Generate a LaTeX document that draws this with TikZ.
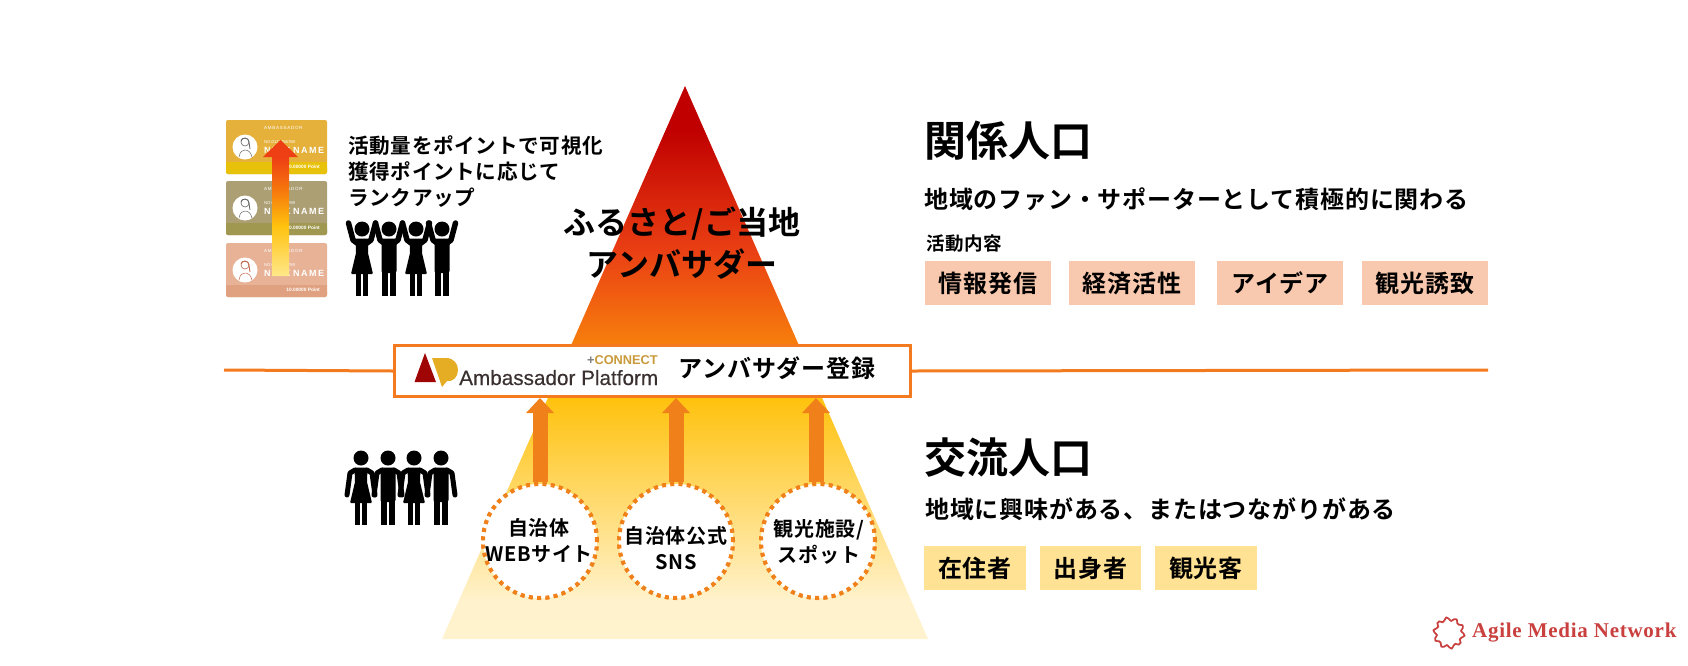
\documentclass[tikz,border=0pt]{standalone}
\usepackage{fontspec}
\usetikzlibrary{arrows.meta}
\newfontfamily\jpb[LetterSpace=3.4]{Noto Sans CJK JP Bold}
\newfontfamily\jpt{Noto Sans CJK JP Bold}
\newfontfamily\lat{Liberation Sans}
\newfontfamily\latm[FakeBold=0.3]{Liberation Sans}
\newfontfamily\amn[LetterSpace=3.5]{Liberation Serif}
\newcommand{\fs}[2]{\fontsize{#1}{#2}\selectfont}
\definecolor{orline}{HTML}{F47A20}
\definecolor{orarrow}{HTML}{F08019}
\definecolor{chipa}{HTML}{F8C9AE}
\definecolor{chipb}{HTML}{FFE293}
\definecolor{amnred}{HTML}{C9403F}
\definecolor{logored}{HTML}{A00505}
\definecolor{logogold}{HTML}{E5AD24}
\definecolor{logodark}{HTML}{3A3030}
\definecolor{conngold}{HTML}{C99A3C}
\definecolor{gA}{HTML}{FFF3CF}
\definecolor{gB}{HTML}{FFF2CC}
\definecolor{gC}{HTML}{FFC20E}
\definecolor{gD}{HTML}{F7800C}
\definecolor{gE}{HTML}{EA4014}
\definecolor{gF}{HTML}{C00000}
\definecolor{gG}{HTML}{FFE88A}
\definecolor{gH}{HTML}{EE3F14}
\definecolor{cardA}{HTML}{E5B13B}
\definecolor{stripA}{HTML}{E8C20A}
\definecolor{cardB}{HTML}{AD9F74}
\definecolor{stripB}{HTML}{A09750}
\definecolor{cardC}{HTML}{E7B296}
\definecolor{stripC}{HTML}{DFA17F}
\definecolor{sketchA}{HTML}{666666}
\definecolor{sketchC}{HTML}{C0654A}
\pgfdeclareverticalshading{tri}{100bp}{color(0bp)=(gA); color(25bp)=(gA); color(28.5bp)=(gB); color(46.75bp)=(gC); color(51.5bp)=(gD); color(60bp)=(gE); color(71bp)=(gF); color(100bp)=(gF)}
\pgfdeclareverticalshading{upar}{100bp}{color(0bp)=(gG); color(25bp)=(gG); color(43.5bp)=(gC); color(55bp)=(gD); color(68.5bp)=(gH); color(100bp)=(gH)}
\tikzset{
 title/.style={font=\jpt\fs{42}{50},anchor=west,inner sep=0},
 lead/.style={font=\jpb\fs{24}{30},anchor=west,inner sep=0},
 chip/.style={font=\jpb\fs{24}{30},minimum height=44,inner sep=0,text=black},
 spot/.style={circle,draw=orarrow,fill=white,line width=4,dash pattern=on 4 off 4.3,minimum size=114,inner sep=0},
 spotlabel/.style={font=\jpb\fs{20}{26},align=center,inner sep=0},
 uparrow/.style={draw=orarrow,line width=15,-{Triangle[width=27,length=15]}},
 cardtxt/.style={text=white,inner sep=0},
}
\newcommand{\manbody}{\fill (0,0) circle (7.5);
 \fill[rounded corners=2] (-7.5,9.5) rectangle (7.5,44);
 \fill (-7,36) rectangle (-0.9,67); \fill (0.9,36) rectangle (7,67);}
\newcommand{\womanbody}{\fill (0,0) circle (7.5);
 \fill[rounded corners=1] (-6.5,9.5) -- (6.5,9.5) -- (6,24) -- (11,45) -- (-11,45) -- (-6,24) -- cycle;
 \fill (-6,45) rectangle (-1.3,67); \fill (1.3,45) rectangle (6,67);}
\newcommand{\armsdown}{\draw[line width=5,line cap=round,line join=round] (-6,12) -- (-11,15) -- (-14,37) (6,12) -- (11,15) -- (14,37);}
\newcommand{\armsup}{\draw[line width=5.5,line cap=round,line join=round] (-5,14) -- (-9,11) -- (-13.5,-6) (5,14) -- (9,11) -- (13.5,-6);}
\newcommand{\card}[5]{%
 \begin{scope}[shift={(0,#1)}]
 \fill[#2,rounded corners=2] (226,0) rectangle (327,54);
 \fill[#3] (226,42) rectangle (327,50);
 \fill[#3,rounded corners=2] (226,46) rectangle (327,54);
 \fill[white] (245,27) circle (12.5);
 \draw[#4,line width=.5] (239,37) .. controls (240,31) and (243,30) .. (245,30) .. controls (248,30) and (251,32) .. (252,37);
 \draw[#4,line width=.6,fill=white] (245,22) circle (4);
 \draw[#4,line width=.8] (241,21) .. controls (241,17) and (249,17) .. (249,22) -- (250,29);
 \node[cardtxt,anchor=west,font=\lat\fs{4.5}{5}] (amb-#5) at (264,8) {A\,M\,B\,A\,S\,S\,A\,D\,O\,R};
 \node[cardtxt,anchor=west,font=\lat\fs{4.2}{5}] (no-#5) at (264,22) {NO:0123456789};
 \node[cardtxt,anchor=west,font=\lat\bfseries\fs{9}{10}] (nick-#5) at (264,30) {N\,I\,C\,K\ N\,A\,M\,E};
 \node[cardtxt,anchor=east,font=\lat\bfseries\fs{4.8}{5}] (pt-#5) at (320,47) {10.00000 Point};
 \end{scope}}
\begin{document}
\begin{tikzpicture}[x=1pt,y=-1pt]
\useasboundingbox (0,0) rectangle (1688,665);
\fill[white] (0,0) rectangle (1688,665);
\path[shading=tri] (685,86) -- (442,639) -- (928,639) -- cycle;
\coordinate (L) at (224,370);
\coordinate (R) at (1488,370);
\node[draw=orline,fill=white,line width=3,minimum width=516,minimum height=51,inner sep=0] (box) at (652.5,371) {};
\draw[orline,line width=3] (L) -- (box.west);
\draw[orline,line width=3] (box.east) -- (R);
\fill[logored] (425,353) -- (436,382) -- (414.5,382) -- cycle;
\fill[logogold] (432,358) -- (446,358) .. controls (454,358) and (458,364) .. (458,370) .. controls (458,377) and (453,382) .. (447,381) -- (442,387) -- cycle;
\node[anchor=base west,inner sep=0,font=\latm\fs{20.7}{24},text=logodark] (ap) at (459,385) {Ambassador Platform};
\node[anchor=base east,inner sep=0,font=\lat\bfseries\fs{12.8}{16}] (conn) at (658,364) {\textcolor{gray}{+}\textcolor{conngold}{CONNECT}};
\node[anchor=center,inner sep=0,font=\jpb\fs{24}{30}] (reg) at (777,368) {アンバサダー登録};
\node[spot] (c1) at (540,541) {};
\node[spot] (c2) at (676,541) {};
\node[spot] (c3) at (818,541) {};
\draw[uparrow] (c1.north) -- (c1.north |- box.south);
\draw[uparrow] (c2.north) -- (c2.north |- box.south);
\draw[uparrow] ([xshift=-2]c3.north) -- ([xshift=-2]c3.north |- box.south);
\node[spot] (c1b) at (540,541) {};
\node[spot] (c2b) at (676,541) {};
\node[spot] (c3b) at (818,541) {};
\node[spotlabel] (t1) at (539,541) {自治体\\WEBサイト};
\node[spotlabel] (t2) at (676,548) {自治体公式\\SNS};
\node[spotlabel] (t3) at (819,542) {観光施設/\\スポット};
\node[font=\jpt\fs{32}{42},align=center,inner sep=0] (ctr) at (682,243.5) {ふるさと/ご当地\\アンバサダー};
\card{120}{cardA}{stripA}{sketchA}{a}
\card{181}{cardB}{stripB}{sketchA}{b}
\card{243}{cardC}{stripC}{sketchC}{c}
\path[shading=upar] (280.5,140) -- (298,157) -- (289,157) -- (289,276) -- (272,276) -- (272,157) -- (263,157) -- cycle;
\node[anchor=north west,inner sep=0,align=left,font=\jpb\fs{20.6}{26}] (act) at (348,135) {活動量をポイントで可視化\\獲得ポイントに応じて\\ランクアップ};
\foreach \x/\k in {362/w,389/m,416/w,442/m}{
 \begin{scope}[shift={(\x,229)}]
 \armsup
 \if\k w\womanbody\else\manbody\fi
 \end{scope}}
\foreach \x/\k in {361/w,388/m,414/w,441/m}{
 \begin{scope}[shift={(\x,458)}]
 \armsdown
 \if\k w\womanbody\else\manbody\fi
 \end{scope}}
\node[title] (h1) at (924,141) {関係人口};
\node[lead] (l1) at (924,199) {地域のファン・サポーターとして積極的に関わる};
\node[anchor=west,inner sep=0,font=\jpb\fs{18.5}{24}] (l2) at (926,244) {活動内容};
\foreach \n/\cx/\w/\t in {p1/988/126/情報発信,p2/1132/126/経済活性,p3/1280/126/アイデア,p4/1425/126/観光誘致}
 \node[chip,fill=chipa,minimum width=\w] (\n) at (\cx,283) {\t};
\node[title] (h2) at (924,458) {交流人口};
\node[lead] (l3) at (925,509) {地域に興味がある、またはつながりがある};
\foreach \n/\cx/\w/\t in {q1/975/102/在住者,q2/1090.5/101/出身者,q3/1206/102/観光客}
 \node[chip,fill=chipb,minimum width=\w] (\n) at (\cx,568) {\t};
\begin{scope}[shift={(1449,633)}]
\draw[amnred,line width=1.7] plot[smooth cycle,samples=36,domain=0:350] (\x:{14+1.8*sin(10*\x)});
\end{scope}
\node[anchor=west,inner sep=0,font=\amn\bfseries\fs{21}{24},text=amnred] (amn) at (1472,633) {Agile Media Network};
\end{tikzpicture}
\end{document}
